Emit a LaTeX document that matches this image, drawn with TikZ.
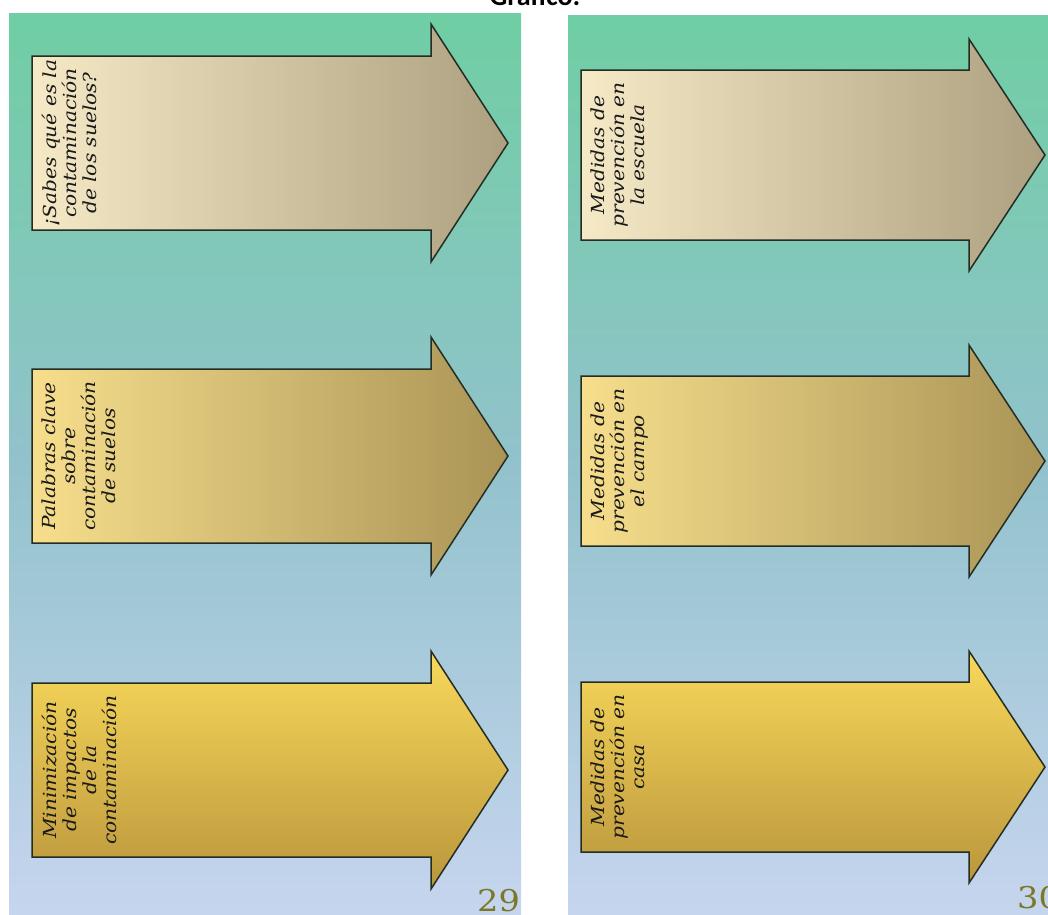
\documentclass[tikz,border=0pt]{standalone}
\usepackage{fontspec}
\newfontfamily\handfont[FakeStretch=1.12]{DejaVu Serif}
\newfontfamily\titlefont{Carlito}

\definecolor{bgtop}{RGB}{111,206,163}
\definecolor{bgmid}{RGB}{146,194,204}
\definecolor{bgbottom}{RGB}{198,213,238}
\definecolor{arrowline}{RGB}{35,45,35}
\definecolor{creamleft}{RGB}{245,233,198}
\definecolor{creamright}{RGB}{172,160,128}
\definecolor{sandleft}{RGB}{246,222,140}
\definecolor{sandright}{RGB}{170,148,86}
\definecolor{goldtop}{RGB}{248,216,90}
\definecolor{goldbottom}{RGB}{186,150,60}
\definecolor{pageolive}{RGB}{122,120,40}

\begin{document}
\begin{tikzpicture}[
  x=1pt,
  y=1pt,
  panelbg/.style={
    top color=bgtop,
    bottom color=bgbottom,
    middle color=bgmid
  },
  arrowshape/.style={
    draw=arrowline,
    line width=1.5pt,
    line join=miter
  },
  creamfill/.style={left color=creamleft, right color=creamright},
  sandfill/.style={left color=sandleft, right color=sandright},
  goldfill/.style={top color=goldtop, bottom color=goldbottom},
  arrowtext/.style={
    rotate=90,
    anchor=north,
    align=center,
    inner sep=0pt,
    text=black!90,
    font=\handfont\itshape\fontsize{18}{20}\selectfont
  },
  pagenum/.style={
    anchor=base west,
    inner sep=0pt,
    text=pageolive,
    font=\handfont\fontsize{30}{30}\selectfont
  }
]

\clip (0,0) rectangle (1048,-914);

\newcommand{\drawpanelarrow}[4]{%
  \begin{scope}[shift={(#1)}]
    \path[arrowshape, #2] (0,\armbody) -- (\armneck,\armbody) -- (\armneck,\armhead)
      -- (\armtip,0) -- (\armneck,-\armhead) -- (\armneck,-\armbody)
      -- (0,-\armbody) -- cycle;
    \node[arrowtext] (#3) at (10,0) {#4};
  \end{scope}
}

% title, cut by the top edge
\node[font=\titlefont\bfseries\fontsize{28}{30}\selectfont, anchor=base, inner sep=0pt]
  (title) at (535,-5) {Gráfico:};

% left panel (29)
\begin{scope}
  \clip (9,-13) rectangle (521,-914);
  \fill[panelbg] (9,-13) rectangle (521,-914);
  \node[pagenum] (pageleft) at (477,-911) {29};
\end{scope}

\def\armbody{87}
\def\armhead{119}
\def\armneck{399}
\def\armtip{476}

\drawpanelarrow{32,-143}{creamfill}{suelos}{¡Sabes qué es la\\contaminación\\de los suelos?}
\drawpanelarrow{32,-456}{sandfill}{palabras}{Palabras clave\\sobre\\contaminación\\de suelos}
\drawpanelarrow{32,-770}{goldfill}{minimizacion}{Minimización\\de impactos\\de la\\contaminación}

% right panel (30)
\begin{scope}
  \clip (568,-15) rectangle (1048,-914);
  \fill[panelbg] (568,-15) rectangle (1048,-914);
  \node[pagenum] (pageright) at (1017,-908) {30};
\end{scope}

\def\armbody{85}
\def\armhead{116}
\def\armneck{388}
\def\armtip{464}

\drawpanelarrow{581,-155}{creamfill}{escuela}{Medidas de\\prevención en\\la escuela}
\drawpanelarrow{581,-461}{sandfill}{campo}{Medidas de\\prevención en\\el campo}
\drawpanelarrow{581,-767}{goldfill}{casa}{Medidas de\\prevención en\\casa}

\end{tikzpicture}
\end{document}
